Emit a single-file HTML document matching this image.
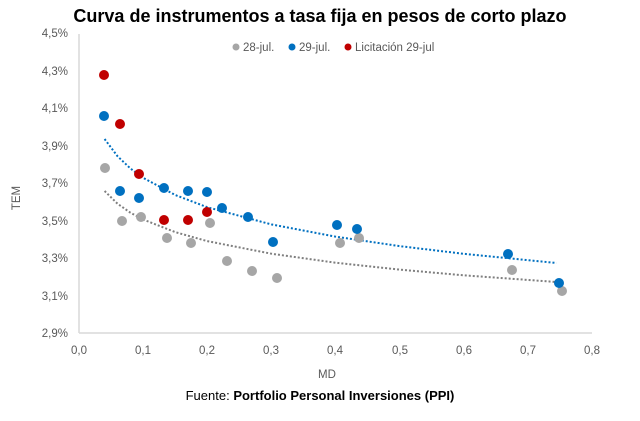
<!DOCTYPE html>
<html><head><meta charset="utf-8"><style>
body{margin:0;background:#fff;width:640px;height:416px;overflow:hidden;font-family:"Liberation Sans",sans-serif}
</style></head><body>
<svg width="640" height="416" xmlns="http://www.w3.org/2000/svg" font-family="Liberation Sans, sans-serif">
<text x="320" y="22" text-anchor="middle" font-size="18" font-weight="bold" fill="#000">Curva de instrumentos a tasa fija en pesos de corto plazo</text>
<line x1="79" y1="34" x2="79" y2="333" stroke="#d9d9d9" stroke-width="1.5"/>
<line x1="79" y1="333" x2="592" y2="333" stroke="#d9d9d9" stroke-width="1.5"/>
<g font-size="11.5" fill="#595959" text-anchor="end">
<text x="68" y="37">4,5%</text><text x="68" y="75">4,3%</text><text x="68" y="112">4,1%</text><text x="68" y="150">3,9%</text><text x="68" y="187">3,7%</text><text x="68" y="225">3,5%</text><text x="68" y="262">3,3%</text><text x="68" y="300">3,1%</text><text x="68" y="337">2,9%</text>
</g>
<g font-size="11.5" fill="#595959" text-anchor="middle">
<text x="79" y="354">0,0</text><text x="143" y="354">0,1</text><text x="207" y="354">0,2</text><text x="271" y="354">0,3</text><text x="335" y="354">0,4</text><text x="400" y="354">0,5</text><text x="464" y="354">0,6</text><text x="528" y="354">0,7</text><text x="592" y="354">0,8</text>
</g>
<text x="327" y="378" text-anchor="middle" font-size="11.5" fill="#595959">MD</text>
<text transform="translate(20,198) rotate(-90)" text-anchor="middle" font-size="11.5" fill="#595959">TEM</text>
<text x="320" y="400" text-anchor="middle" font-size="13" fill="#000">Fuente: <tspan font-weight="bold">Portfolio Personal Inversiones (PPI)</tspan></text>
<g font-size="11.5" fill="#595959">
<circle cx="236" cy="47" r="3.5" fill="#a6a6a6"/><text x="243" y="51">28-jul.</text>
<circle cx="292" cy="47" r="3.5" fill="#0070c0"/><text x="299" y="51">29-jul.</text>
<circle cx="348" cy="47" r="3.5" fill="#c00000"/><text x="355" y="51">Licitación 29-jul</text>
</g>
<polyline fill="none" stroke="#0070c0" stroke-width="2" stroke-dasharray="2,2" points="104.6,139 117.5,156.2 130.3,168.4 143.1,177.8 175.2,195 207.2,207.2 271.3,224.4 335.4,236.6 399.5,246.1 463.6,253.8 556.5,263"/>
<polyline fill="none" stroke="#7f7f7f" stroke-width="2" stroke-dasharray="2,2" points="104.6,191 117.5,203.7 130.3,212.6 143.1,219.5 175.2,232.1 207.2,241.1 271.3,253.7 335.4,262.7 399.5,269.6 463.6,275.3 556.5,282"/>
<g fill="#a6a6a6">
<circle cx="105" cy="168" r="5"/><circle cx="122" cy="221" r="5"/><circle cx="141" cy="217" r="5"/><circle cx="167" cy="238" r="5"/><circle cx="191" cy="243" r="5"/><circle cx="210" cy="223" r="5"/><circle cx="227" cy="261" r="5"/><circle cx="252" cy="271" r="5"/><circle cx="277" cy="278" r="5"/><circle cx="340" cy="243" r="5"/><circle cx="359" cy="238" r="5"/><circle cx="512" cy="270" r="5"/><circle cx="562" cy="291" r="5"/>
</g>
<g fill="#0070c0">
<circle cx="104" cy="116" r="5"/><circle cx="120" cy="191" r="5"/><circle cx="139" cy="198" r="5"/><circle cx="164" cy="188" r="5"/><circle cx="188" cy="191" r="5"/><circle cx="207" cy="192" r="5"/><circle cx="222" cy="208" r="5"/><circle cx="248" cy="217" r="5"/><circle cx="273" cy="242" r="5"/><circle cx="337" cy="225" r="5"/><circle cx="357" cy="229" r="5"/><circle cx="508" cy="254" r="5"/><circle cx="559" cy="283" r="5"/>
</g>
<g fill="#c00000">
<circle cx="104" cy="75" r="5"/><circle cx="120" cy="124" r="5"/><circle cx="139" cy="174" r="5"/><circle cx="164" cy="220" r="5"/><circle cx="188" cy="220" r="5"/><circle cx="207" cy="212" r="5"/>
</g>
</svg>
</body></html>
